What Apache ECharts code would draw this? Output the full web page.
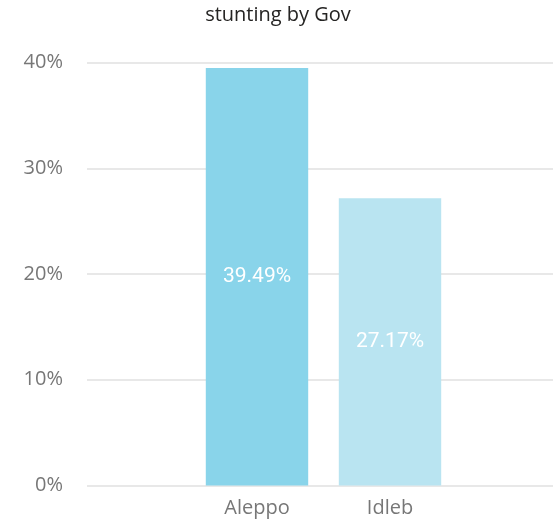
<!DOCTYPE html>
<html><head><meta charset="utf-8">
<script src="https://cdn.jsdelivr.net/npm/echarts@6/dist/echarts.min.js"></script>
<style>html,body{margin:0;padding:0;background:#fff}#c{width:556px;height:521px}</style>
</head><body><div id="c"></div>
<script>
const titleText = 'stunting by Gov';
const categories = ['Aleppo', 'Idleb'];
const values = [39.49, 27.17];
const barColors = ['#89D4EA', '#B9E4F1'];
const yTicks = [0, 10, 20, 30, 40];

const chart = echarts.init(document.getElementById('c'));
chart.setOption({
  animation: false,
  title: { text: titleText, left: 'center', top: 0, textStyle: { fontFamily: 'Open Sans', fontSize: 20, fontWeight: 'normal', color: '#252423' } },
  grid: [
    { left: 87, right: 3, top: 62.5, bottom: 35.5 },
    { left: 190.5, right: 99.5, top: 62.5, bottom: 35.5 }
  ],
  xAxis: [
    { gridIndex: 0, type: 'category', data: [''], show: false },
    { gridIndex: 1, type: 'category', data: categories,
      axisLine: { show: false }, axisTick: { show: false },
      axisLabel: { fontFamily: 'Open Sans', fontSize: 20, color: '#777', margin: 13 } }
  ],
  yAxis: [
    { gridIndex: 0, type: 'value', min: yTicks[0], max: yTicks[yTicks.length - 1], interval: 10,
      axisLabel: { formatter: v => v + '%', fontFamily: 'Open Sans', fontSize: 20, color: '#777', margin: 24 },
      splitLine: { lineStyle: { color: '#E8E8E8', width: 2 } },
      axisLine: { show: false }, axisTick: { show: false } },
    { gridIndex: 1, type: 'value', min: yTicks[0], max: yTicks[yTicks.length - 1], show: false, splitLine: { show: false } }
  ],
  series: [{
    type: 'bar', xAxisIndex: 1, yAxisIndex: 1,
    barCategoryGap: '23%',
    data: values.map((v, i) => ({ value: v, itemStyle: { color: barColors[i] } })),
    label: { show: true, position: 'inside', formatter: p => p.value.toFixed(2) + '%',
      color: '#fff', fontFamily: 'Roboto', fontSize: 21 }
  }]
});
</script></body></html>
